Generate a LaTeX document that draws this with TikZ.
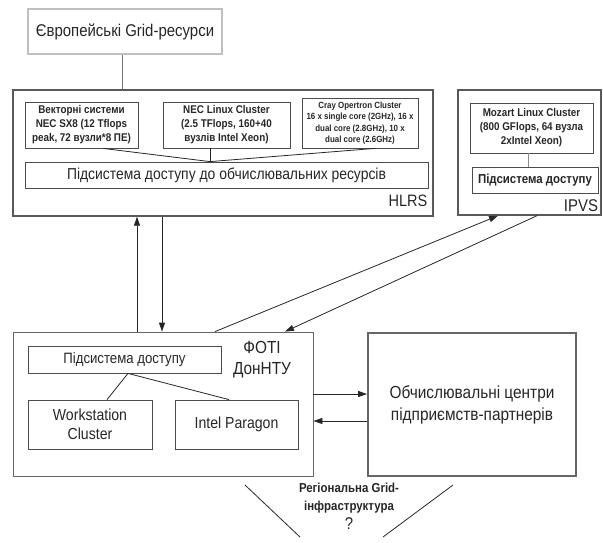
\documentclass[tikz,border=0pt]{standalone}
\usepackage{fontspec}
\setmainfont{Liberation Sans}[FakeStretch=0.88]
\usetikzlibrary{arrows.meta}

\begin{document}
\begin{tikzpicture}[x=1pt, y=-1pt,
    box/.style={draw=black!70, line width=0.8pt, inner sep=0pt, align=center, text=black!85},
    sys/.style={box, font=\bfseries\fontsize{11.2}{14}\selectfont},
    site/.style={box, draw=black!65, line width=1.4pt},
    link/.style={draw=black!85, line width=0.8pt},
    arr/.style={link, -{Triangle[length=9pt,width=6pt]}}]
	\useasboundingbox (0,0) rectangle (603,542);

	% european resources
	\node[box, draw=black!25, line width=1.2pt, minimum width=194, minimum height=45, font=\fontsize{17}{20}\selectfont] (euro) at (125,31.5) {Європейські Grid-ресурси};

	% HLRS
	\node[site, minimum width=420, minimum height=126] (hlrs) at (223,153) {};
	\node[sys, minimum width=113, minimum height=46] (vect) at (81.5,125) {Векторні системи\\NEC SX8 (12 Tflops\\peak, 72 вузли*8 ПЕ)};
	\node[sys, minimum width=127, minimum height=46] (neclin) at (226.5,125) {NEC Linux Cluster\\(2.5 TFlops, 160+40\\вузлів Intel Xeon)};
	\node[box, minimum width=116, minimum height=50, font=\bfseries\fontsize{9}{11.5}\selectfont] (cray) at (360,123) {Cray Opertron Cluster\\16 x single core (2GHz), 16 x\\dual core (2.8GHz), 10 x\\dual core (2.6GHz)};
	\node[box, minimum width=403, minimum height=26, font=\fontsize{15.8}{18}\selectfont] (hlrsacc) at (226.5,175) {Підсистема доступу до обчислювальних ресурсів};
	\node[font=\fontsize{16.5}{19}\selectfont, text=black!85] (hlrslab) at (408,201) {HLRS};

	% IPVS
	\node[site, minimum width=143, minimum height=125] (ipvs) at (529.5,152.5) {};
	\node[sys, minimum width=123, minimum height=50] (mozart) at (531.5,128) {Mozart Linux Cluster\\(800 GFlops, 64 вузла\\2xIntel Xeon)};
	\node[box, minimum width=126, minimum height=26, font=\bfseries\fontsize{13}{15}\selectfont] (ipvsacc) at (535,180) {Підсистема доступу};
	\node[font=\fontsize{17}{19}\selectfont, text=black!85] (ipvslab) at (581,206) {IPVS};

	% FOTI
	\node[box, draw=black!60, minimum width=300, minimum height=144] (foti) at (163,404) {};
	\node[box, minimum width=193, minimum height=27, font=\fontsize{15}{17}\selectfont] (fotiacc) at (124.5,359.5) {Підсистема доступу};
	\node[align=center, font=\fontsize{17.5}{21}\selectfont, text=black!85] (fotilab) at (262,360) {ФОТІ\\ДонНТУ};
	\node[box, minimum width=124, minimum height=49, font=\fontsize{16}{19}\selectfont] (ws) at (90,424.5) {Workstation\\Cluster};
	\node[box, minimum width=123, minimum height=49, font=\fontsize{16}{19}\selectfont] (paragon) at (236.5,424.5) {Intel Paragon};

	% partner centres
	\node[box, draw=black!60, line width=1.8pt, minimum width=208, minimum height=143, font=\fontsize{17.5}{22}\selectfont] (cop) at (472,404.5) {Обчислювальні центри\\підприємств-партнерів};

	% regional grid
	\node[align=center, font=\bfseries\fontsize{13}{18}\selectfont, text=black!85] (region) at (349,498) {Регіональна Grid-\\інфраструктура};
	\node[font=\fontsize{17}{19}\selectfont, text=black!85] (quest) at (349,524) {?};
	\coordinate (vl1) at (245,485);
	\coordinate (vl2) at (300,537);
	\coordinate (vr1) at (453,485);
	\coordinate (vr2) at (383,537);
	\draw[link] (vl1) -- (vl2);
	\draw[link] (vr1) -- (vr2);

	% inner links
	\draw[link, draw=black!55] (euro.south -| 122,0) -- (hlrs.north -| 122,0);
	\foreach \s/\x in {vect/103, neclin/210, cray/375}
	{	\draw[link] (\s.south -| \x,0) -- (hlrsacc.north -| 210,0);
	}
	\draw[link, draw=black!45] (mozart.south -| 528,0) -- (ipvsacc.north -| 528,0);
	\foreach \s/\x in {ws/107, paragon/229}
	{	\draw[link] (fotiacc.south -| 128,0) -- (\s.north -| \x,0);
	}

	% arrows between sites
	\def\up {hlrs/137/137, ipvs/215/498}  % site / x at foti / x at site
	\foreach \v/\a/\b in \up
	{	\draw[arr] (foti.north -| \a,0) -- (\v.south -| \b,0);
	}
	\def\down {hlrs/162/162, ipvs/537/285}
	\foreach \v/\a/\b in \down
	{	\draw[arr] (\v.south -| \a,0) -- (foti.north -| \b,0);
	}
	\draw[arr] (foti.east |- 0,394) -- (cop.west |- 0,394);
	\draw[arr] (cop.west |- 0,421) -- (foti.east |- 0,421);

\end{tikzpicture}
\end{document}
